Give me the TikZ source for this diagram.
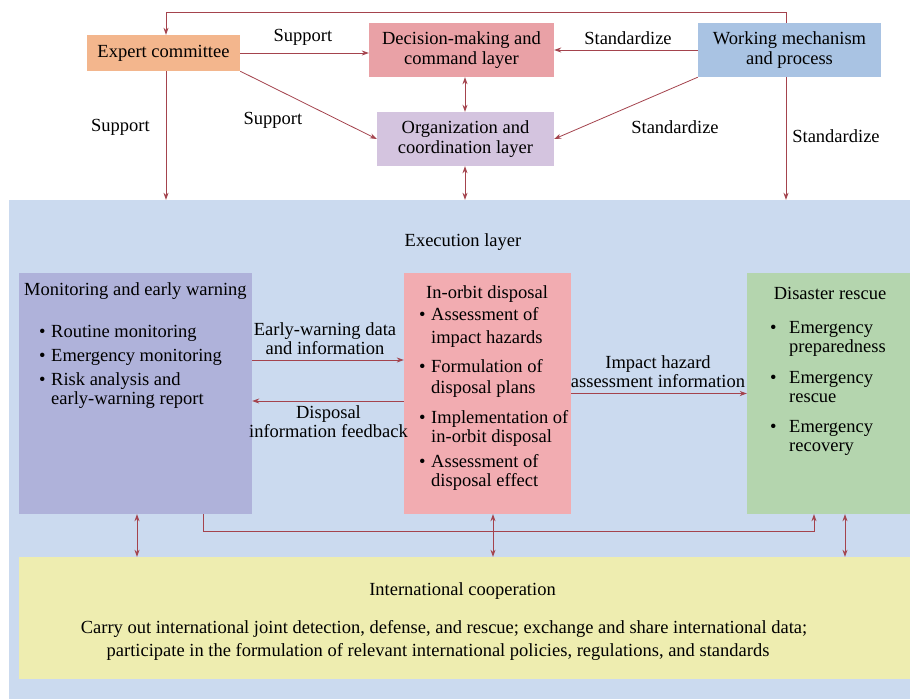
\documentclass[tikz,border=0pt]{standalone}
\usepackage{fontspec}
\setmainfont{Liberation Serif}
\usetikzlibrary{arrows.meta}
\definecolor{arrowc}{HTML}{A4434D}
\definecolor{exbg}{HTML}{CBDAEF}
\definecolor{monc}{HTML}{AFB2DA}
\definecolor{iorc}{HTML}{F2ACB1}
\definecolor{disc}{HTML}{B4D5AE}
\definecolor{icc}{HTML}{EEEDB0}
\definecolor{ecc}{HTML}{F3B68D}
\definecolor{dmc}{HTML}{E9A1A6}
\definecolor{ogc}{HTML}{D4C4DF}
\definecolor{wmc}{HTML}{A9C3E3}
\begin{document}
\begin{tikzpicture}[x=1pt,y=-1pt,
  font=\fontsize{18.5}{20.5}\selectfont,
  box/.style={inner sep=0pt, align=center, draw=none},
  arr/.style={draw=arrowc, line width=0.8pt, -{Stealth[length=7pt,width=5pt]}},
  dbl/.style={draw=arrowc, line width=0.8pt, {Stealth[length=7pt,width=5pt]}-{Stealth[length=7pt,width=5pt]}},
  lbl/.style={anchor=base, inner sep=0pt, align=center},
  txt/.style={anchor=base west, inner sep=0pt},
  bul/.style={anchor=base west, inner sep=0pt}]
\useasboundingbox (0,0) rectangle (910,699);
\fill[white] (0,0) rectangle (910,699);

% execution layer background
\node[box, fill=exbg, minimum width=901pt, minimum height=499pt] (exl) at (459.5,449.5) {};

% top boxes
\node[box, fill=ecc, minimum width=153pt, minimum height=36pt] (ec) at (163.5,53) {Expert committee};
\node[box, fill=dmc, minimum width=185pt, minimum height=54pt] (dm) at (461.5,50) {Decision-making and\\command layer};
\node[box, fill=ogc, minimum width=177pt, minimum height=54pt] (og) at (465.5,139) {Organization and\\coordination layer};
\node[box, fill=wmc, minimum width=183pt, minimum height=54pt] (wm) at (789.5,50) {Working mechanism\\and process};

% execution boxes
\node[box, fill=monc, minimum width=233pt, minimum height=241pt] (mon) at (135.5,393.5) {};
\node[box, fill=iorc, minimum width=167pt, minimum height=241pt] (ior) at (487.5,393.5) {};
\node[box, fill=disc, minimum width=163pt, minimum height=241pt] (dis) at (828.5,393.5) {};
\node[box, fill=icc, minimum width=891pt, minimum height=122pt] (ic) at (464.5,618) {};

% top connectors
\coordinate (loopR) at (786,12);
\coordinate (loopL) at (166,12);
\draw[arr] (wm.north -| loopR) -- (loopR) -- (loopL) -- (loopL |- ec.north);
\draw[arr] (wm.south -| loopR) -- (loopR |- exl.north);
\draw[arr] (loopL |- ec.south) -- (loopL |- exl.north);
\draw[arr] (ec.east) -- (ec.east -| dm.west);
\draw[arr] (ec.south east) -- (og.west);
\draw[arr] (wm.west) -- (wm.west -| dm.east);
\draw[arr] (wm.south west) -- (og.east);
\draw[dbl] ([xshift=-0.5pt]og.north |- dm.south) -- ([xshift=-0.5pt]og.north);
\draw[dbl] ([xshift=-0.5pt]og.south) -- ([xshift=-0.5pt]og.south |- exl.north);

\node[lbl] (l1) at (303,41) {Support};
\node[lbl] (l2) at (273,124) {Support};
\node[lbl] (l3) at (120.5,131) {Support};
\node[lbl] (l4) at (628,44) {Standardize};
\node[lbl] (l5) at (675,133) {Standardize};
\node[lbl] (l6) at (836,142) {Standardize};

% execution layer title
\node[lbl] (exlt) at (463,246) {Execution layer};

% monitoring text
\node[txt] (m0) at (24,295) {Monitoring and early warning};
\node[bul] (mb1) at (39,337) {\textbullet};
\node[txt] (m1) at (51,337) {Routine monitoring};
\node[bul] (mb2) at (39,361) {\textbullet};
\node[txt] (m2) at (51,361) {Emergency monitoring};
\node[bul] (mb3) at (39,385) {\textbullet};
\node[txt] (m3) at (51,385) {Risk analysis and};
\node[txt] (m4) at (51,404) {early-warning report};

% in-orbit text
\node[txt] (i0) at (426,298) {In-orbit disposal};
\node[bul] (ib1) at (419,320) {\textbullet};
\node[txt] (i1) at (431,320) {Assessment of};
\node[txt] (i2) at (431,343) {impact hazards};
\node[bul] (ib2) at (419,372) {\textbullet};
\node[txt] (i3) at (431,372) {Formulation of};
\node[txt] (i4) at (431,393) {disposal plans};
\node[bul] (ib3) at (419,423) {\textbullet};
\node[txt] (i5) at (431,423) {Implementation of};
\node[txt] (i6) at (431,442) {in-orbit disposal};
\node[bul] (ib4) at (419,467) {\textbullet};
\node[txt] (i7) at (431,467) {Assessment of};
\node[txt] (i8) at (431,486) {disposal effect};

% disaster text
\node[lbl] (d0) at (830,299) {Disaster rescue};
\node[bul] (db1) at (770,333) {\textbullet};
\node[txt] (d1) at (789,333) {Emergency};
\node[txt] (d2) at (789,352) {preparedness};
\node[bul] (db2) at (770,383) {\textbullet};
\node[txt] (d3) at (789,383) {Emergency};
\node[txt] (d4) at (789,402) {rescue};
\node[bul] (db3) at (770,432) {\textbullet};
\node[txt] (d5) at (789,432) {Emergency};
\node[txt] (d6) at (789,451) {recovery};

% execution connectors
\draw[arr] ([yshift=33.5pt]mon.east) -- ([yshift=33.5pt]mon.east -| ior.west);
\draw[arr] ([yshift=-7.5pt]ior.west) -- ([yshift=-7.5pt]ior.west -| mon.east);
\draw[arr] (ior.east) -- (ior.east -| dis.west);
\node[lbl] (e1) at (325,335) {Early-warning data};
\node[lbl] (e2) at (325,354) {and information};
\node[lbl] (f1) at (328.5,418) {Disposal};
\node[lbl] (f2) at (328.5,437) {information feedback};
\node[lbl] (h1) at (658,368) {Impact hazard};
\node[lbl] (h2) at (658,387) {assessment information};

% bottom connectors
\coordinate (lp1) at (203,531);
\coordinate (lp2) at (814,531);
\draw[arr] (lp1 |- mon.south) -- (lp1) -- (lp2) -- (lp2 |- dis.south);
\draw[dbl] ([xshift=1.5pt]mon.south) -- ([xshift=1.5pt]mon.south |- ic.north);
\draw[dbl] ([xshift=5.5pt]ior.south) -- ([xshift=5.5pt]ior.south |- ic.north);
\draw[dbl] ([xshift=16.5pt]dis.south) -- ([xshift=16.5pt]dis.south |- ic.north);

% international cooperation text
\node[lbl] (c0) at (462.5,595) {International cooperation};
\node[lbl] (c1) at (444,633) {Carry out international joint detection, defense, and rescue; exchange and share international data;};
\node[lbl] (c2) at (438,656) {participate in the formulation of relevant international policies, regulations, and standards};
\end{tikzpicture}
\end{document}
